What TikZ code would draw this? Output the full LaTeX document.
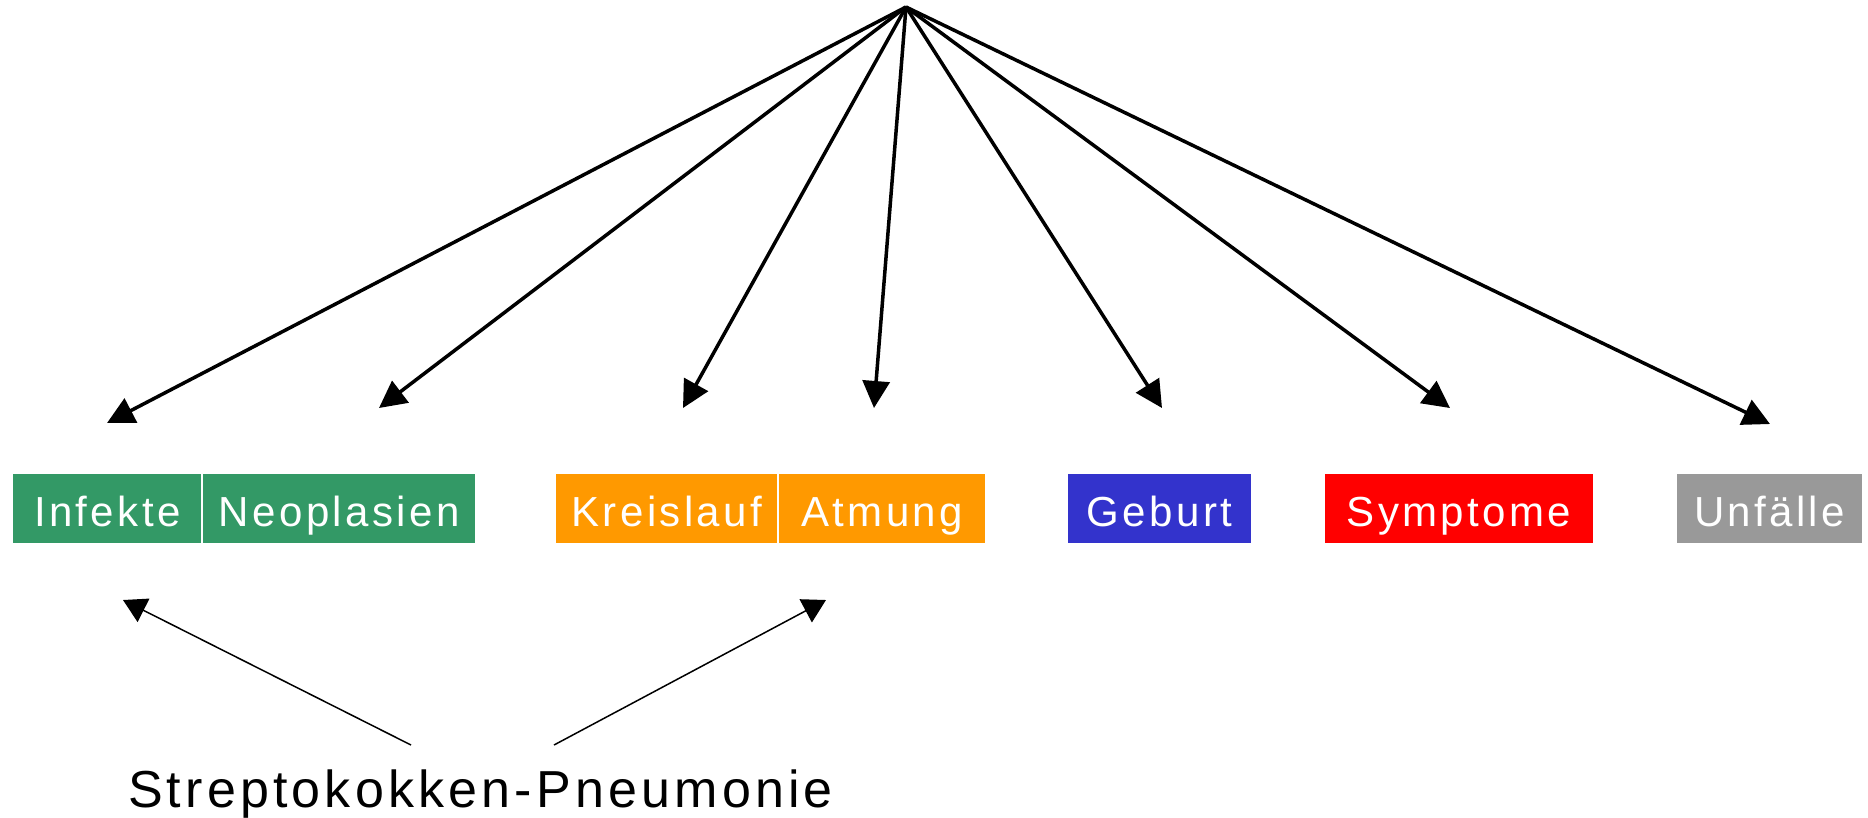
\documentclass[tikz,border=0pt]{standalone}
\usepackage{fontspec}
\usetikzlibrary{arrows.meta}
\newfontfamily\labelfont[LetterSpace=8]{Liberation Sans}
\definecolor{cgreen}{RGB}{51,153,102}
\definecolor{corange}{RGB}{255,153,0}
\definecolor{cblue}{RGB}{51,51,204}
\definecolor{cred}{RGB}{255,0,0}
\definecolor{cgray}{RGB}{153,153,153}
\begin{document}
\begin{tikzpicture}[x=0.01cm, y=-0.01cm,
  catbox/.style={draw=white, line width=0.02cm, fill=#1, text=white,
    minimum height=0.71cm, inner sep=0pt,
    font=\labelfont\fontsize{11.95}{14}\selectfont,
    text height=0.45cm, text depth=0.1cm},
  toparrow/.style={line width=0.035cm, -{Triangle[length=0.27cm, width=0.27cm]}},
  lowarrow/.style={line width=0.015cm, -{Triangle[length=0.23cm, width=0.26cm]}}]
  \useasboundingbox (0,0) rectangle (1868,817);

  % category boxes
  \node[catbox=cgreen,  minimum width=1.905cm] (inf)  at (107.25,508.5) {Infekte};
  \node[catbox=cgreen,  minimum width=2.735cm] (neo)  at (339.25,508.5) {Neoplasien};
  \node[catbox=corange, minimum width=2.235cm] (kre)  at (666.75,508.5) {Kreislauf};
  \node[catbox=corange, minimum width=2.075cm] (atm)  at (882.25,508.5) {Atmung};
  \node[catbox=cblue,   minimum width=1.85cm]  (geb)  at (1159.5,508.5) {Geburt};
  \node[catbox=cred,    minimum width=2.70cm]  (sym)  at (1459,508.5)   {Symptome};
  \node[catbox=cgray,   minimum width=1.87cm]  (unf)  at (1769.5,508.5) {Unfälle};

  % common origin and arrow ends above the boxes
  \coordinate (apex) at (906,7);
  \coordinate (tinf) at (107,423);
  \coordinate (tneo) at (379,408);
  \coordinate (tkre) at (683,408);
  \coordinate (tatm) at (874,408);
  \coordinate (tgeb) at (1162,408);
  \coordinate (tsym) at (1450,408);
  \coordinate (tunf) at (1770,424);

  \foreach \t in {tinf,tneo,tkre,tatm,tgeb,tsym,tunf}
    \draw[toparrow] (apex) -- (\t);

  % example case below
  \node[font=\labelfont\fontsize{14.8}{18}\selectfont, anchor=base] (strep) at (480.5,807) {Streptokokken-Pneumonie};
  \coordinate (sl) at (411,745);
  \coordinate (sr) at (554,745);
  \coordinate (bl) at (123,600);
  \coordinate (br) at (826,600);
  \draw[lowarrow] (sl) -- (bl);
  \draw[lowarrow] (sr) -- (br);
\end{tikzpicture}
\end{document}
